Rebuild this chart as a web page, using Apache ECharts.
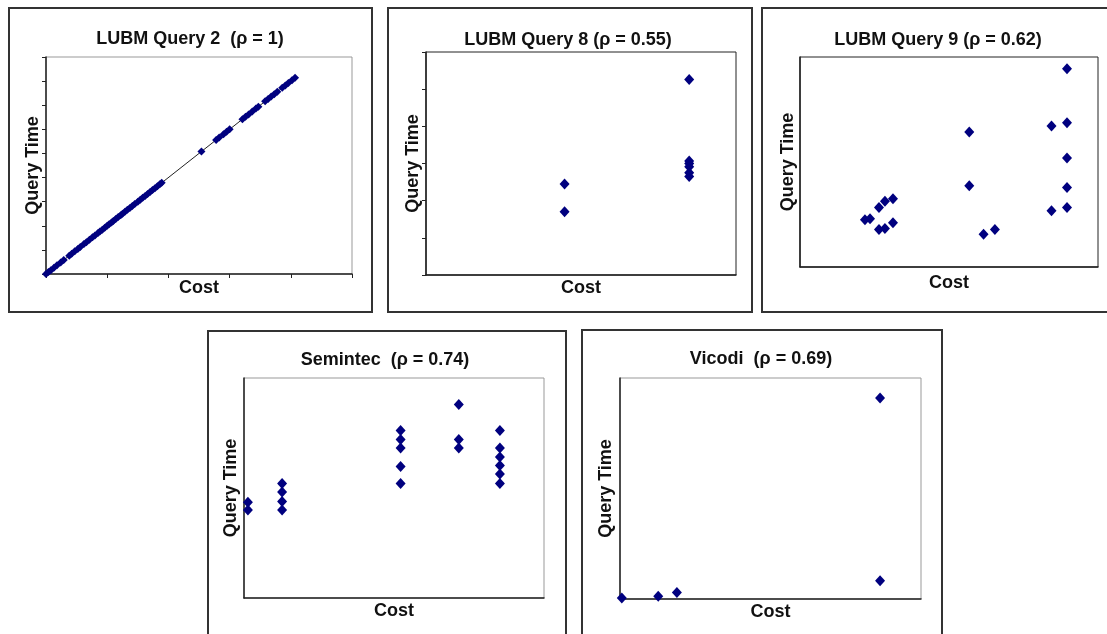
<!DOCTYPE html>
<html>
<head>
<meta charset="utf-8">
<script src="https://cdn.jsdelivr.net/npm/echarts@6/dist/echarts.min.js"></script>
<style>
  html, body { margin: 0; padding: 0; background: #fff; }
  #chart { width: 1107px; height: 634px; }
</style>
</head>
<body>
<div id="chart"></div>
<script>
// panel titles
var titles = ['LUBM Query 2  (\u03c1 = 1)', 'LUBM Query 8 (\u03c1 = 0.55)', 'LUBM Query 9 (\u03c1 = 0.62)',
              'Semintec  (\u03c1 = 0.74)', 'Vicodi  (\u03c1 = 0.69)'];

// LUBM Query 2
var q2Cost = [0, 0.04, 0.08, 0.13, 0.18, 0.24, 0.29, 0.38, 0.42, 0.47, 0.52, 0.56, 0.62, 0.66, 0.71, 0.76, 0.8,
              0.85, 0.88, 0.92, 0.96, 1.0, 1.03, 1.07, 1.1, 1.14, 1.18, 1.22, 1.25, 1.29, 1.33, 1.37, 1.41, 1.45,
              1.5, 1.54, 1.58, 1.62, 1.66, 1.7, 1.74, 1.78, 1.82, 1.86, 1.89, 2.54, 2.78, 2.83, 2.9, 2.95, 3.0,
              3.21, 3.26, 3.31, 3.37, 3.43, 3.47, 3.58, 3.63, 3.68, 3.73, 3.78, 3.86, 3.91, 3.96, 4.02, 4.07];
var q2Time = [0, 0.08, 0.16, 0.26, 0.36, 0.48, 0.58, 0.76, 0.84, 0.94, 1.04, 1.12, 1.24, 1.32, 1.42, 1.52, 1.6,
              1.7, 1.76, 1.84, 1.92, 2.0, 2.06, 2.14, 2.2, 2.28, 2.36, 2.44, 2.5, 2.58, 2.66, 2.74, 2.82, 2.9,
              3.0, 3.08, 3.16, 3.24, 3.32, 3.4, 3.48, 3.56, 3.64, 3.72, 3.78, 5.08, 5.56, 5.66, 5.8, 5.9, 6.0,
              6.42, 6.52, 6.62, 6.74, 6.86, 6.94, 7.16, 7.26, 7.36, 7.46, 7.56, 7.72, 7.82, 7.92, 8.04, 8.14];

// LUBM Query 8
var q8Cost = [4.47, 4.47, 8.49, 8.49, 8.49, 8.49, 8.49, 8.49];
var q8Time = [2.45, 1.70, 5.26, 3.07, 3.0, 2.91, 2.75, 2.65];

// LUBM Query 9
var q9Cost = [8.96, 8.44, 8.96, 5.68, 8.96, 5.68, 8.96, 8.44, 8.96, 2.18, 2.35, 2.65, 2.85, 3.12,
              2.65, 2.85, 3.12, 6.16, 6.54];
var q9Time = [9.44, 6.71, 6.87, 6.43, 5.19, 3.87, 3.78, 2.68, 2.83, 2.25, 2.30, 2.83, 3.13, 3.25,
              1.78, 1.83, 2.11, 1.56, 1.79];

// Semintec
var semCost = [0.13, 0.13, 1.27, 1.27, 1.27, 1.27, 5.22, 5.22, 5.22, 5.22, 5.22, 7.16, 7.16, 7.16,
               8.53, 8.53, 8.53, 8.53, 8.53, 8.53];
var semTime = [4.35, 4.0, 5.2, 4.82, 4.39, 4.0, 7.61, 7.2, 6.82, 5.98, 5.2, 8.79, 7.2, 6.82,
               7.61, 6.82, 6.41, 6.02, 5.64, 5.2];

// Vicodi
var vicCost = [0.06, 1.27, 1.89, 8.64, 8.64];
var vicTime = [0.05, 0.12, 0.29, 9.09, 0.83];

function zip(a, b) {
    var out = [];
    for (var i = 0; i < a.length; i++) out.push([a[i], b[i]]);
    return out;
}

var font = '"Liberation Sans", Arial, sans-serif';
var markColor = '#00007f';

// grid boxes: [left, top, width, height, borderColor]
var grids = [
    [46, 57, 306, 217, '#999'],
    [426, 52, 310, 223, '#222'],
    [800, 57, 298, 210, '#222'],
    [244, 378, 300, 220, '#999'],
    [620, 378, 301, 221, '#999']
];
var titlePos = [[190, 30], [568, 31], [938, 31], [385, 351], [761, 350]];
var xMax = [5, 10, 10, 10, 10];
var yMax = [9, 6, 10, 10, 10];
var xTicks = [true, false, false, false, false];
var yTicks = [true, true, false, false, false];
var xGap = [5, 4, 7, 4, 4];
var yGap = [4, 4, 3, 4, 5];

var option = {
    backgroundColor: '#fff',
    animation: false,
    title: [],
    grid: [],
    xAxis: [],
    yAxis: [],
    series: [],
    graphic: [
        { type: 'rect', shape: { x: 9, y: 8, width: 363, height: 304 }, style: { fill: 'none', stroke: '#333', lineWidth: 2 } },
        { type: 'rect', shape: { x: 388, y: 8, width: 364, height: 304 }, style: { fill: 'none', stroke: '#333', lineWidth: 2 } },
        { type: 'rect', shape: { x: 762, y: 8, width: 360, height: 304 }, style: { fill: 'none', stroke: '#333', lineWidth: 2 } },
        { type: 'rect', shape: { x: 208, y: 331, width: 358, height: 320 }, style: { fill: 'none', stroke: '#333', lineWidth: 2 } },
        { type: 'rect', shape: { x: 582, y: 330, width: 360, height: 320 }, style: { fill: 'none', stroke: '#333', lineWidth: 2 } }
    ]
};

grids.forEach(function (g, i) {
    option.title.push({
        text: titles[i], left: titlePos[i][0], top: titlePos[i][1], textAlign: 'center', padding: 0,
        textStyle: { fontFamily: font, fontSize: 18, fontWeight: 'bold', color: '#111' }
    });
    option.grid.push({
        left: g[0], top: g[1], width: g[2], height: g[3],
        show: true, borderColor: g[4], borderWidth: 1, backgroundColor: '#fff'
    });
    option.xAxis.push({
        type: 'value', gridIndex: i, min: 0, max: xMax[i], interval: 1,
        name: 'Cost', nameLocation: 'middle', nameGap: xGap[i],
        nameTextStyle: { fontFamily: font, fontSize: 18, fontWeight: 'bold', color: '#111', verticalAlign: 'top' },
        axisLine: { show: true, lineStyle: { color: '#222', width: 1.5 } },
        axisTick: { show: xTicks[i], length: 4, lineStyle: { color: '#222' } },
        axisLabel: { show: false }, splitLine: { show: false }
    });
    option.yAxis.push({
        type: 'value', gridIndex: i, min: 0, max: yMax[i], interval: 1,
        name: 'Query Time', nameLocation: 'middle', nameGap: yGap[i],
        nameTextStyle: { fontFamily: font, fontSize: 18, fontWeight: 'bold', color: '#111' },
        axisLine: { show: true, lineStyle: { color: '#222', width: 1.5 } },
        axisTick: { show: yTicks[i], length: 4, lineStyle: { color: '#222' } },
        axisLabel: { show: false }, splitLine: { show: false }
    });
});

option.series.push({
    type: 'line', xAxisIndex: 0, yAxisIndex: 0, data: zip(q2Cost, q2Time),
    showSymbol: false, lineStyle: { color: '#222', width: 1 }, z: 1
});
var sets = [zip(q2Cost, q2Time), zip(q8Cost, q8Time), zip(q9Cost, q9Time), zip(semCost, semTime), zip(vicCost, vicTime)];
sets.forEach(function (d, i) {
    option.series.push({
        type: 'scatter', xAxisIndex: i, yAxisIndex: i, data: d,
        symbol: 'diamond', symbolSize: i === 0 ? [8, 8] : [10, 11],
        itemStyle: { color: markColor, opacity: 1 }, z: 3
    });
});

var chart = echarts.init(document.getElementById('chart'), null, { renderer: 'canvas' });
chart.setOption(option);
</script>
</body>
</html>
